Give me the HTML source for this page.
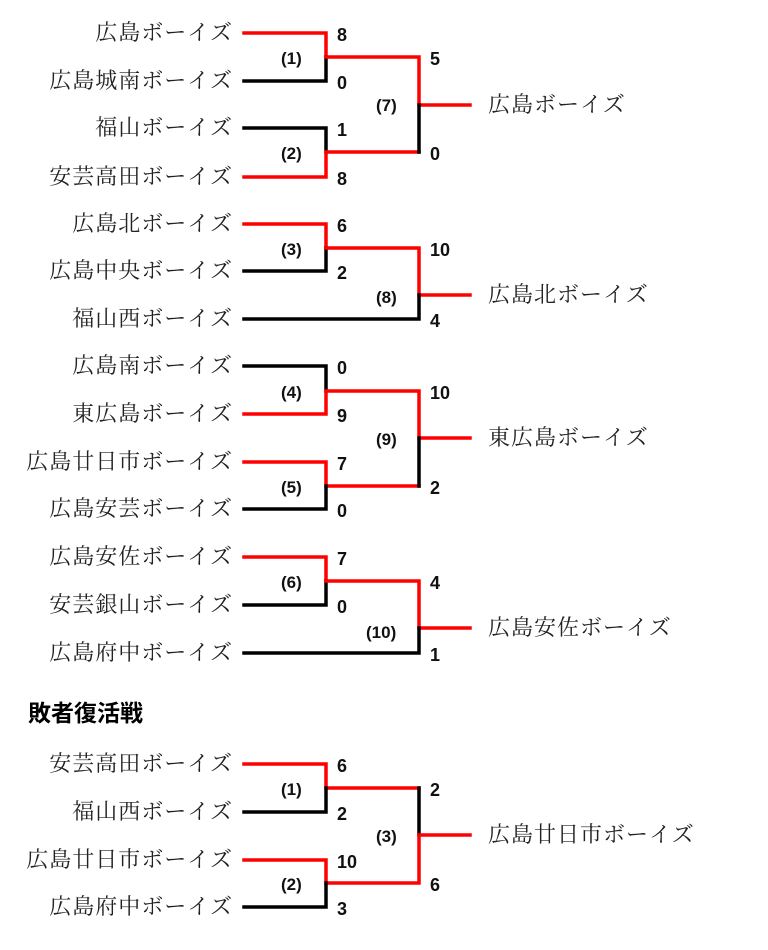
<!DOCTYPE html>
<html><head><meta charset="utf-8"><style>
html,body{margin:0;padding:0;background:#fff;width:768px;height:950px;overflow:hidden}
.n{font-family:"Liberation Serif","Noto Serif CJK JP",serif;font-size:22px;letter-spacing:1px;fill:#222}
.s{font-family:"Liberation Sans","Noto Sans CJK JP",sans-serif;font-size:18px;font-weight:bold;fill:#111}
.l{font-family:"Liberation Sans","Noto Sans CJK JP",sans-serif;font-size:17px;font-weight:bold;fill:#111}
.h{font-family:"Liberation Sans","Noto Sans CJK JP",sans-serif;font-size:23px;font-weight:bold;fill:#000}
</style></head><body>
<svg width="768" height="950" xmlns="http://www.w3.org/2000/svg">
<g fill="none" stroke-width="3.5" stroke-linecap="square" stroke-linejoin="miter">
<path d="M244 33H326V57" stroke="#f00"/>
<path d="M244 81H326V57" stroke="#000"/>
<path d="M326 57H419V105H470" stroke="#f00"/>
<path d="M244 128H326V152" stroke="#000"/>
<path d="M244 177H326V152H419" stroke="#f00"/>
<path d="M419 152V105" stroke="#000"/>
<path d="M244 224H326V248" stroke="#f00"/>
<path d="M244 271H326V248" stroke="#000"/>
<path d="M326 248H419V295H470" stroke="#f00"/>
<path d="M244 319H419V295" stroke="#000"/>
<path d="M244 366H326V391" stroke="#000"/>
<path d="M244 414H326V391H419V438H470" stroke="#f00"/>
<path d="M244 462H326V486H419" stroke="#f00"/>
<path d="M244 509H326V486" stroke="#000"/>
<path d="M419 486V438" stroke="#000"/>
<path d="M244 557H326V581" stroke="#f00"/>
<path d="M244 605H326V581" stroke="#000"/>
<path d="M326 581H419V628H470" stroke="#f00"/>
<path d="M244 653H419V628" stroke="#000"/>
<path d="M244 764H326V788H419" stroke="#f00"/>
<path d="M244 812H326V788" stroke="#000"/>
<path d="M419 788V835" stroke="#000"/>
<path d="M244 860H326V883H419V835H470" stroke="#f00"/>
<path d="M244 907H326V883" stroke="#000"/>
</g>
<g class="n" text-anchor="end">
<text x="233" y="40">広島ボーイズ</text>
<text x="233" y="88">広島城南ボーイズ</text>
<text x="233" y="135">福山ボーイズ</text>
<text x="233" y="184">安芸高田ボーイズ</text>
<text x="233" y="231">広島北ボーイズ</text>
<text x="233" y="278">広島中央ボーイズ</text>
<text x="233" y="326">福山西ボーイズ</text>
<text x="233" y="373">広島南ボーイズ</text>
<text x="233" y="421">東広島ボーイズ</text>
<text x="233" y="469">広島廿日市ボーイズ</text>
<text x="233" y="516">広島安芸ボーイズ</text>
<text x="233" y="564">広島安佐ボーイズ</text>
<text x="233" y="612">安芸銀山ボーイズ</text>
<text x="233" y="660">広島府中ボーイズ</text>
<text x="233" y="771">安芸高田ボーイズ</text>
<text x="233" y="819">福山西ボーイズ</text>
<text x="233" y="867">広島廿日市ボーイズ</text>
<text x="233" y="914">広島府中ボーイズ</text>
</g>
<g class="n">
<text x="488" y="112">広島ボーイズ</text>
<text x="488" y="302">広島北ボーイズ</text>
<text x="488" y="445">東広島ボーイズ</text>
<text x="488" y="635">広島安佐ボーイズ</text>
<text x="488" y="842">広島廿日市ボーイズ</text>
</g>
<g class="s">
<text x="337" y="41">8</text><text x="337" y="89">0</text>
<text x="337" y="136">1</text><text x="337" y="185">8</text>
<text x="430" y="65">5</text><text x="430" y="160">0</text>
<text x="337" y="232">6</text><text x="337" y="279">2</text>
<text x="430" y="256">10</text><text x="430" y="327">4</text>
<text x="337" y="374">0</text><text x="337" y="422">9</text>
<text x="337" y="470">7</text><text x="337" y="517">0</text>
<text x="430" y="399">10</text><text x="430" y="494">2</text>
<text x="337" y="565">7</text><text x="337" y="613">0</text>
<text x="430" y="589">4</text><text x="430" y="661">1</text>
<text x="337" y="772">6</text><text x="337" y="820">2</text>
<text x="337" y="868">10</text><text x="337" y="915">3</text>
<text x="430" y="796">2</text><text x="430" y="891">6</text>
</g>
<g class="l">
<text x="281" y="64">(1)</text><text x="281" y="159">(2)</text>
<text x="376" y="111">(7)</text>
<text x="281" y="255">(3)</text><text x="376" y="303">(8)</text>
<text x="281" y="398">(4)</text><text x="281" y="493">(5)</text>
<text x="376" y="445">(9)</text>
<text x="281" y="588">(6)</text><text x="366" y="638">(10)</text>
<text x="281" y="795">(1)</text><text x="281" y="890">(2)</text>
<text x="376" y="842">(3)</text>
</g>
<text class="h" x="28" y="721">敗者復活戦</text>
</svg>
</body></html>
